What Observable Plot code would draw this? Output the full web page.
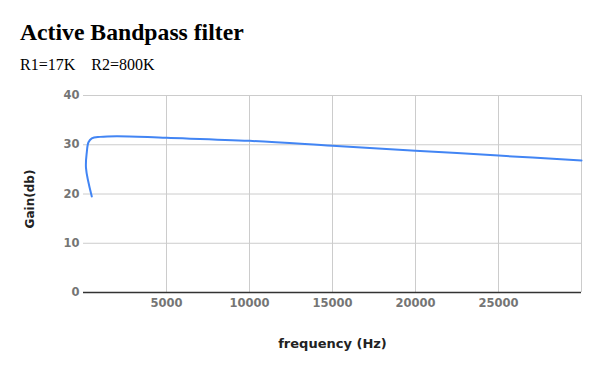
<!DOCTYPE html>
<html>
<head>
<meta charset="utf-8">
<script src="https://cdn.jsdelivr.net/npm/d3@7"></script>
<script src="https://cdn.jsdelivr.net/npm/@observablehq/plot@0.6"></script>
<style>
  html, body { margin: 0; padding: 0; background: #fff; }
  #wrap { position: relative; width: 600px; height: 371px; overflow: hidden; }
  #title { position: absolute; left: 20px; top: 21px; font: bold 23.7px/23.7px "Liberation Serif", "Times New Roman", serif; color: #000; white-space: pre; }
  #subtitle { position: absolute; left: 20px; top: 57px; font: 16px/16px "Liberation Serif", "Times New Roman", serif; color: #000; white-space: pre; }
  #chart { position: absolute; left: 0; top: 80px; }
</style>
</head>
<body>
<div id="wrap">
  <div id="title">Active Bandpass filter</div>
  <div id="subtitle">R1=17K    R2=800K</div>
  <div id="chart"></div>
</div>
<script>
const frequency = [500, 150, 200, 300, 500, 1000, 2000, 5000, 10000, 15000, 20000, 25000, 30000];
const gain = [19.5, 25.3, 28.5, 30.5, 31.3, 31.6, 31.75, 31.4, 30.8, 29.8, 28.8, 27.8, 26.8];
const xTicks = [5000, 10000, 15000, 20000, 25000];
const xGrid = [5000, 10000, 15000, 20000, 25000, 30000];
const yTicks = [0, 10, 20, 30, 40];
const yGrid = [10, 20, 30, 40];

const data = frequency.map((f, i) => ({ f, g: gain[i] }));

const tickFont = { fontFamily: "DejaVu Sans", fontWeight: "bold", fontSize: 11.5, fill: "#757575" };

const chart = Plot.plot({
  width: 600,
  height: 291,
  marginLeft: 83,
  marginRight: 19,
  marginTop: 15,
  marginBottom: 79,
  style: { background: "#fff", overflow: "visible" },
  x: { domain: [0, 30000] },
  y: { domain: [0, 40] },
  marks: [
    Plot.gridX(xGrid, { stroke: "#cccccc", strokeOpacity: 1 }),
    Plot.gridY(yGrid, { stroke: "#cccccc", strokeOpacity: 1 }),
    Plot.ruleY([0], { stroke: "#333333", strokeWidth: 1.3 }),
    Plot.axisX(xTicks, { tickSize: 0, tickPadding: 6, label: null, ...tickFont, tickFormat: d => String(d) }),
    Plot.axisY(yTicks, { tickSize: 0, tickPadding: 4, label: null, ...tickFont, tickFormat: d => String(d) }),
    Plot.line(data, { x: "f", y: "g", stroke: "#4285F4", strokeWidth: 2, curve: "catmull-rom" }),
    Plot.text(["frequency (Hz)"], { frameAnchor: "bottom", dy: 51, lineAnchor: "middle", textAnchor: "middle", fontFamily: "DejaVu Sans", fontWeight: "bold", fontSize: 13, fill: "#222" }),
    Plot.text(["Gain(db)"], { frameAnchor: "left", dx: -53, dy: 5, rotate: -90, lineAnchor: "middle", textAnchor: "middle", fontFamily: "DejaVu Sans", fontWeight: "bold", fontSize: 12, fill: "#222" })
  ]
});
document.getElementById("chart").appendChild(chart);
</script>
</body>
</html>
